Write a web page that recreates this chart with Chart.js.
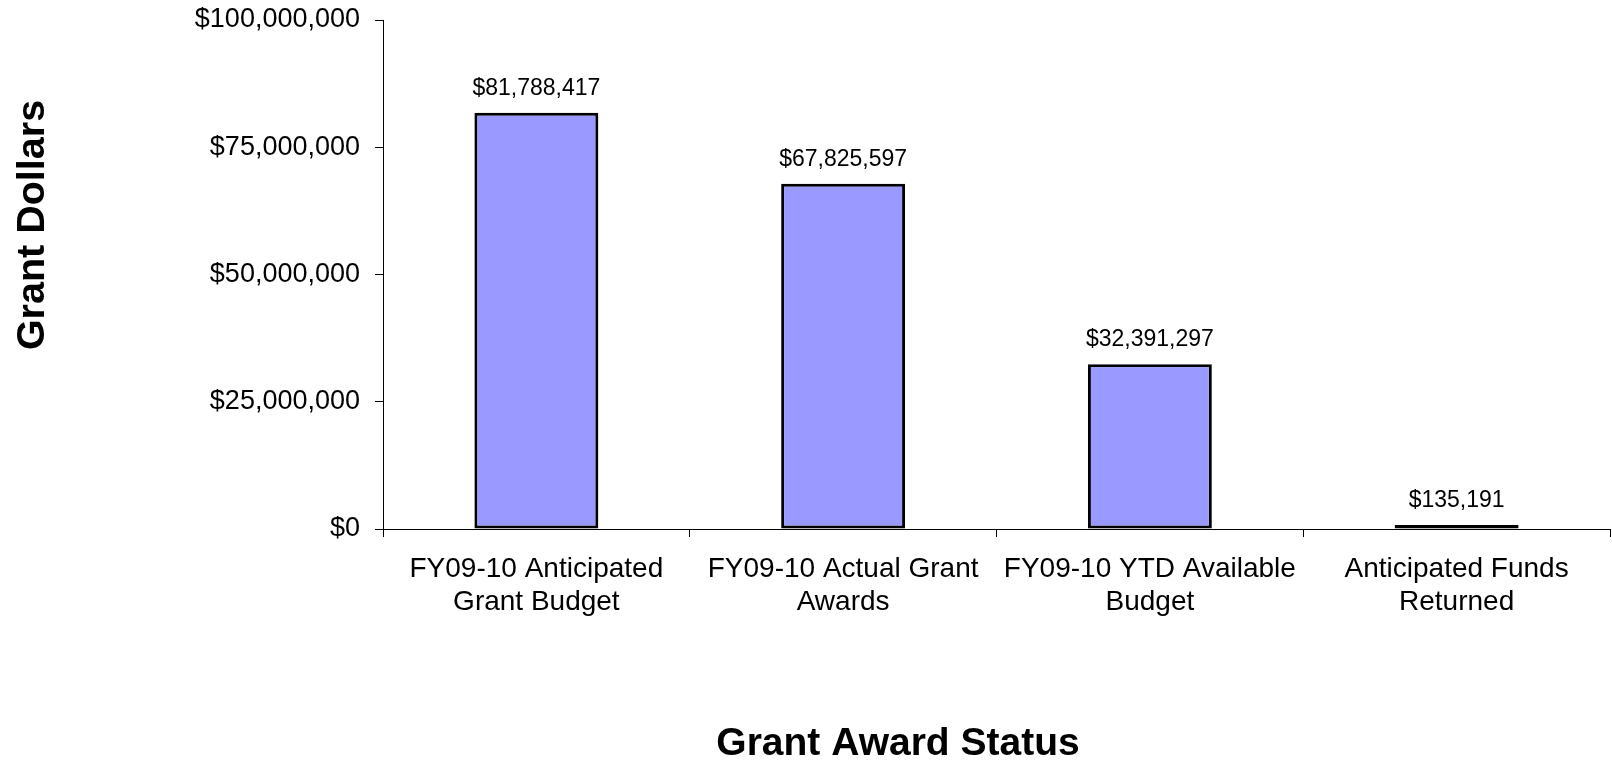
<!DOCTYPE html>
<html>
<head>
<meta charset="utf-8">
<script src="https://cdn.jsdelivr.net/npm/chart.js@4/dist/chart.umd.min.js"></script>
<style>
  html, body { margin: 0; padding: 0; background: #fff; }
  #wrap { width: 1612px; height: 761px; }
</style>
</head>
<body>
<div id="wrap"><canvas id="grantChart" width="1612" height="761"></canvas></div>
<script>
const categories = [
  ["FY09-10 Anticipated", "Grant Budget"],
  ["FY09-10 Actual Grant", "Awards"],
  ["FY09-10 YTD Available", "Budget"],
  ["Anticipated Funds", "Returned"]
];
const grantDollars = [81788417, 67825597, 32391297, 135191];
const yTicks = [0, 25000000, 50000000, 75000000, 100000000];
const yTitle = "Grant Dollars";
const xTitle = "Grant Award Status";

const fontFamily = "'Liberation Sans', Arial, sans-serif";

function money(v) {
  return "$" + Number(v).toLocaleString("en-US");
}

// value labels above each bar
const barLabels = {
  id: "barLabels",
  afterDatasetsDraw(chart) {
    const ctx = chart.ctx;
    const meta = chart.getDatasetMeta(0);
    ctx.save();
    ctx.font = "23px " + fontFamily;
    ctx.fillStyle = "#000";
    ctx.textAlign = "center";
    ctx.textBaseline = "middle";
    meta.data.forEach((bar, i) => {
      ctx.fillText(money(grantDollars[i]), bar.x, bar.y - 24);
    });
    ctx.restore();
  }
};

// axis titles, placed where the original puts them
const axisTitles = {
  id: "axisTitles",
  afterDraw(chart) {
    const ctx = chart.ctx;
    ctx.save();
    ctx.fillStyle = "#000";
    ctx.textAlign = "center";
    ctx.textBaseline = "alphabetic";
    ctx.font = "bold 39px " + fontFamily;
    ctx.fillText(xTitle, 898, 755);
    ctx.font = "bold 39.5px " + fontFamily;
    ctx.translate(44, 225);
    ctx.rotate(-Math.PI / 2);
    ctx.fillText(yTitle, 0, 0);
    ctx.restore();
  }
};

const ctx = document.getElementById("grantChart").getContext("2d");
new Chart(ctx, {
  type: "bar",
  data: {
    labels: categories,
    datasets: [{
      data: grantDollars,
      backgroundColor: "#9999FF",
      borderColor: "#000",
      borderWidth: 3,
      borderSkipped: false,
      minBarLength: 4,
      categoryPercentage: 1,
      barPercentage: 0.404
    }]
  },
  options: {
    responsive: false,
    animation: false,
    layout: { padding: { top: 20, right: 2, left: 0, bottom: 0 } },
    plugins: {
      legend: { display: false },
      tooltip: { enabled: false }
    },
    scales: {
      x: {
        afterFit: (scale) => {
          scale.height = 232;
          scale.paddingLeft = 0;
          scale.paddingRight = 0;
        },
        border: { color: "#000", width: 1 },
        grid: {
          offset: true,
          drawOnChartArea: false,
          drawTicks: true,
          tickLength: 8,
          color: "#000"
        },
        ticks: {
          color: "#000",
          font: { family: fontFamily, size: 28 },
          padding: 15,
          maxRotation: 0,
          autoSkip: false
        }
      },
      y: {
        min: 0,
        max: 100000000,
        afterFit: (scale) => {
          scale.width = 383;
          scale.paddingTop = 0;
          scale.paddingBottom = 0;
        },
        afterBuildTicks: (scale) => { scale.ticks = yTicks.map(v => ({ value: v })); },
        border: { color: "#000", width: 1 },
        grid: {
          drawOnChartArea: false,
          drawTicks: true,
          tickLength: 8,
          color: "#000"
        },
        ticks: {
          color: "#000",
          font: { family: fontFamily, size: 27 },
          padding: 15,
          callback: (v) => money(v)
        }
      }
    }
  },
  plugins: [barLabels, axisTitles]
});
</script>
</body>
</html>
